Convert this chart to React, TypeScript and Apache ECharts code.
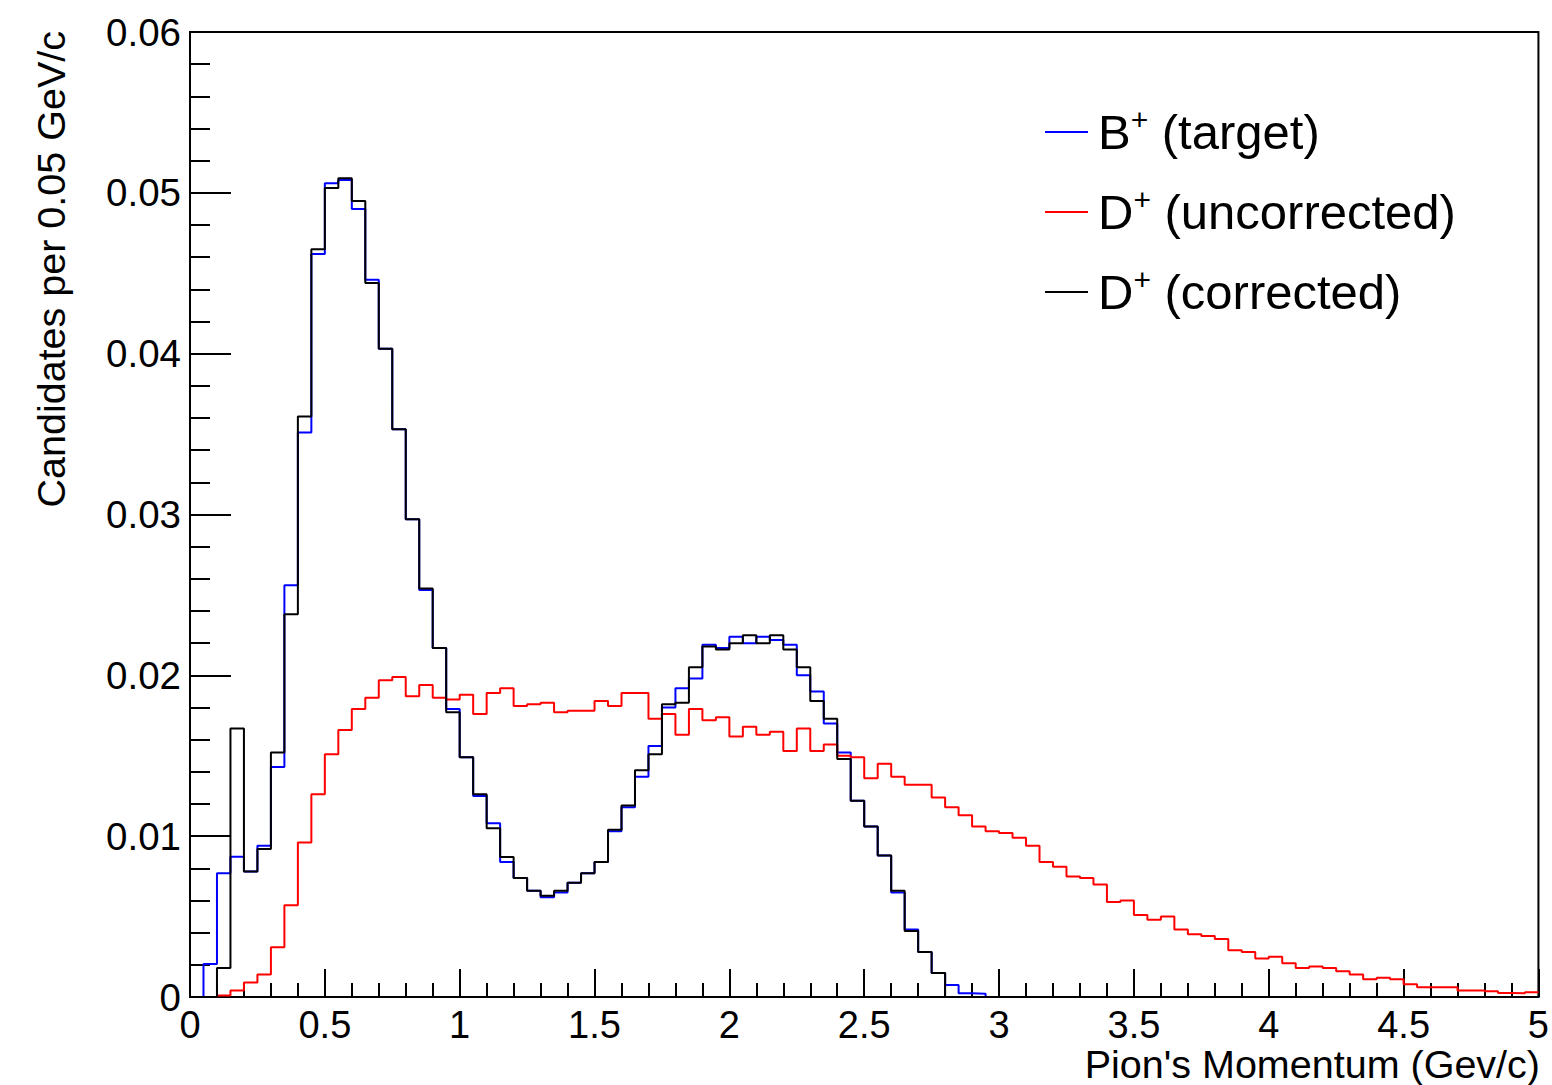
import React, { useEffect, useRef } from "react";
import * as echarts from "echarts";

const FONT = "'Liberation Sans', Arial, Helvetica, sans-serif";

const BIN_WIDTH = 0.05;
const X_MIN = 0;
const X_MAX = 5;

const seriesNames = ["B+ (target)", "D+ (uncorrected)", "D+ (corrected)"];
const seriesColors = ["#0000ff", "#ff0000", "#000000"];

// B+ (target), 100 bins of 0.05 GeV/c
const targetValues = [
  0, 0.00205, 0.0077, 0.00872, 0.0078, 0.0094, 0.0143, 0.0256, 0.0351, 0.0462,
  0.0506, 0.0508, 0.049, 0.0446, 0.0403, 0.0353, 0.0297, 0.0253, 0.0217, 0.0179,
  0.0149, 0.0125, 0.0108, 0.0084, 0.0074, 0.0066, 0.0062, 0.0065, 0.0071, 0.0077,
  0.0084, 0.0103, 0.0118, 0.0137, 0.0156, 0.018, 0.0192, 0.0198, 0.0219, 0.0217,
  0.0224, 0.022, 0.0224, 0.0222, 0.0219, 0.02, 0.019, 0.017, 0.0152, 0.0122,
  0.0106, 0.0088, 0.0065, 0.0042, 0.0028, 0.0015, 0.00075, 0.00023, 0.0002, 0,
  0, 0, 0, 0, 0, 0, 0, 0, 0, 0,
  0, 0, 0, 0, 0, 0, 0, 0, 0, 0,
  0, 0, 0, 0, 0, 0, 0, 0, 0, 0,
  0, 0, 0, 0, 0, 0, 0, 0, 0, 0,
];

// D+ (uncorrected)
const uncorrectedValues = [
  0, 0, 0.0001, 0.0004, 0.0009, 0.0014, 0.0031, 0.0057, 0.0096, 0.0126,
  0.0151, 0.0166, 0.0179, 0.0186, 0.0197, 0.0199, 0.0187, 0.0194, 0.0186, 0.0185,
  0.0188, 0.0176, 0.0189, 0.0192, 0.0181, 0.0182, 0.0183, 0.0177, 0.0178, 0.0178,
  0.0184, 0.0181, 0.0189, 0.0189, 0.0173, 0.0176, 0.0163, 0.0179, 0.0172, 0.0174,
  0.0162, 0.0168, 0.0163, 0.0165, 0.0153, 0.0167, 0.0153, 0.0157, 0.015, 0.0149,
  0.0136, 0.0145, 0.0137, 0.0132, 0.0132, 0.0124, 0.0118, 0.0113, 0.0106, 0.0103,
  0.0102, 0.0099, 0.0094, 0.0084, 0.0081, 0.0075, 0.0074, 0.007, 0.0059, 0.006,
  0.0051, 0.0048, 0.005, 0.0042, 0.0039, 0.0038, 0.0036, 0.0029, 0.0028, 0.0024,
  0.0025, 0.0021, 0.0018, 0.0019, 0.0018, 0.0016, 0.0014, 0.0011, 0.0012, 0.0011,
  0.0008, 0.0006, 0.0006, 0.0006, 0.0004, 0.0004, 0.00035, 0.00025, 0.00023, 0.0003,
];

// D+ (corrected)
const correctedValues = [
  0, 0, 0.0018, 0.0167, 0.0078, 0.0092, 0.0152, 0.0238, 0.0361, 0.0465,
  0.0503, 0.0509, 0.0495, 0.0444, 0.0403, 0.0353, 0.0297, 0.0254, 0.0217, 0.0177,
  0.0149, 0.0126, 0.0105, 0.0087, 0.0074, 0.0066, 0.0063, 0.0066, 0.0071, 0.0077,
  0.0084, 0.0104, 0.0119, 0.0141, 0.0151, 0.0182, 0.0183, 0.0205, 0.0218, 0.0216,
  0.022, 0.0225, 0.022, 0.0225, 0.0216, 0.0205, 0.0184, 0.0173, 0.0148, 0.0122,
  0.0106, 0.0088, 0.0066, 0.0041, 0.0028, 0.0015, 0, 0, 0, 0,
  0, 0, 0, 0, 0, 0, 0, 0, 0, 0,
  0, 0, 0, 0, 0, 0, 0, 0, 0, 0,
  0, 0, 0, 0, 0, 0, 0, 0, 0, 0,
  0, 0, 0, 0, 0, 0, 0, 0, 0, 0,
];

const allValues = [targetValues, uncorrectedValues, correctedValues];

function histPoints(values: number[]): number[][] {
  const pts = values.map((v, i) => [X_MIN + i * BIN_WIDTH, v]);
  pts.push([X_MAX, values[values.length - 1]]);
  return pts;
}

export default function App() {
  const ref = useRef<HTMLDivElement>(null);

  useEffect(() => {
    if (!ref.current) return;
    const chart = echarts.init(ref.current, null, { renderer: "svg" });

    const axisLine = { show: true, lineStyle: { color: "#000", width: 2 } };

    chart.setOption({
      animation: false,
      backgroundColor: "#fff",
      textStyle: { fontFamily: FONT },
      grid: {
        left: 190,
        right: 12,
        top: 32,
        bottom: 88,
        show: true,
        borderColor: "#000",
        borderWidth: 2,
        backgroundColor: "transparent",
      },
      legend: {
        orient: "vertical",
        left: 1045,
        top: 104,
        padding: 0,
        itemWidth: 43,
        itemHeight: 2,
        itemGap: 24,
        icon: "rect",
        data: seriesNames,
        formatter: (name: string) =>
          `{m|${name.slice(0, 1)}}{s|+}{m|${name.slice(2)}}`,
        textStyle: {
          color: "#000",
          fontFamily: FONT,
          fontSize: 49,
          lineHeight: 56,
          height: 56,
          padding: [0, 0, 0, 5],
          rich: {
            m: { fontSize: 49, lineHeight: 56, fontFamily: FONT, color: "#000" },
            s: {
              fontSize: 30,
              lineHeight: 26,
              fontFamily: FONT,
              color: "#000",
              verticalAlign: "top",
            },
          },
        },
      },
      xAxis: {
        type: "value",
        min: X_MIN,
        max: X_MAX,
        interval: 0.5,
        axisLine,
        axisTick: { show: true, inside: true, length: 28, lineStyle: { color: "#000", width: 2 } },
        minorTick: { show: true, splitNumber: 5, length: 14, lineStyle: { color: "#000", width: 2 } },
        axisLabel: {
          color: "#000",
          fontSize: 38,
          fontFamily: FONT,
          margin: 13,
          lineHeight: 30,
        },
        splitLine: { show: false },
        minorSplitLine: { show: false },
      },
      yAxis: {
        type: "value",
        min: 0,
        max: 0.06,
        interval: 0.01,
        axisLine,
        axisTick: { show: true, inside: true, length: 41, lineStyle: { color: "#000", width: 2 } },
        minorTick: { show: true, splitNumber: 5, length: 20, lineStyle: { color: "#000", width: 2 } },
        axisLabel: { color: "#000", fontSize: 38.5, fontFamily: FONT, margin: 9 },
        splitLine: { show: false },
        minorSplitLine: { show: false },
      },
      graphic: [
        {
          type: "text",
          x: 1540,
          y: 1064,
          style: {
            text: "Pion's Momentum (Gev/c)",
            fontSize: 39.5,
            fontFamily: FONT,
            fill: "#000",
            align: "right",
            verticalAlign: "middle",
          },
        },
        {
          type: "text",
          x: 51,
          y: 31,
          rotation: Math.PI / 2,
          style: {
            text: "Candidates per 0.05 GeV/c",
            fontSize: 39.5,
            fontFamily: FONT,
            fill: "#000",
            align: "right",
            verticalAlign: "middle",
          },
        },
      ],
      series: seriesNames.map((name, k) => ({
        name,
        type: "line",
        step: "end",
        symbol: "none",
        color: seriesColors[k],
        lineStyle: { color: seriesColors[k], width: 2 },
        data: histPoints(allValues[k]),
        z: 2 + k,
      })),
    });

    return () => chart.dispose();
  }, []);

  return (
    <div
      ref={ref}
      style={{ position: "absolute", left: 0, top: 0, width: 1552, height: 1085 }}
    />
  );
}
